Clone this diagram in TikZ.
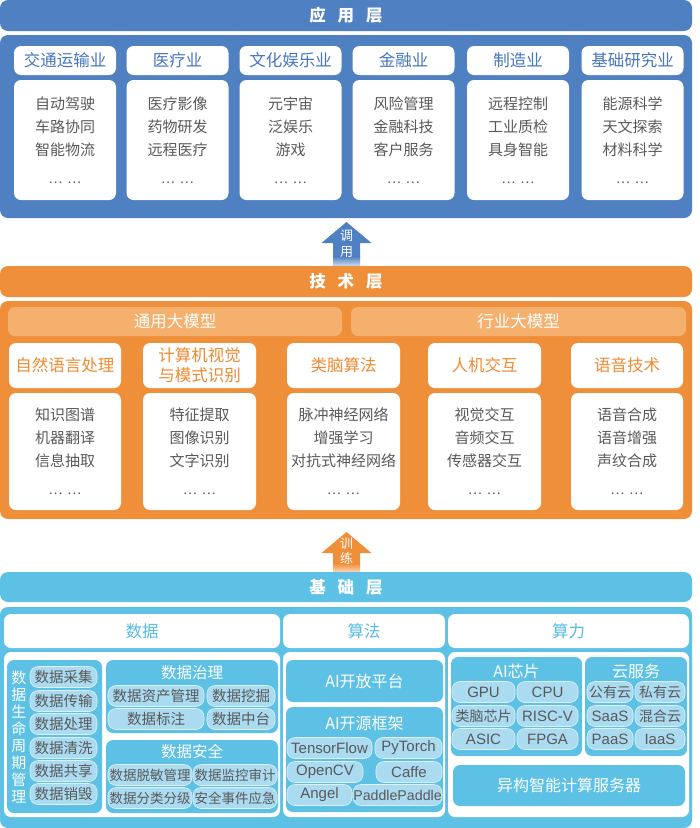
\documentclass[tikz,border=0pt]{standalone}
\usepackage{fontspec}
\setmainfont{Noto Sans CJK SC}
\newfontfamily\latinfont{Liberation Sans}
\definecolor{appblue}{RGB}{79,128,194}
\definecolor{apptext}{RGB}{70,118,190}
\definecolor{techorange}{RGB}{240,143,58}
\definecolor{techlight}{RGB}{245,176,110}
\definecolor{techtext}{RGB}{239,138,50}
\definecolor{basecyan}{RGB}{93,193,229}
\definecolor{basetext}{RGB}{88,188,226}
\definecolor{pillcyan}{RGB}{170,219,240}
\definecolor{textgray}{RGB}{89,89,89}
\newcommand{\moredots}{{\fontsize{13}{13}\selectfont\dots\hspace{5pt}\dots}}

\begin{document}
\begin{tikzpicture}[x=1pt, y=-1pt,
	every node/.style={inner sep=0pt, outer sep=0pt},
	titlebar/.style={rounded corners=8pt, minimum width=692pt, minimum height=31pt, text=white, font=\bfseries\fontsize{16.5}{18}\selectfont},
	header/.style={fill=white, rounded corners=7pt, minimum height=29pt, font=\fontsize{16.5}{18}\selectfont},
	listbox/.style={fill=white, rounded corners=7pt, align=center, text=textgray, font=\fontsize{15}{23}\selectfont},
	panel/.style={fill=basecyan, rounded corners=7pt},
	paneltitle/.style={text=white, font=\fontsize{15.5}{17}\selectfont},
	pill/.style={fill=pillcyan, draw=white!60!pillcyan, line width=0.6pt, rounded corners=8pt, minimum height=21pt, text=textgray, font=\fontsize{14.5}{16}\selectfont},
	latinpill/.style={pill, font=\latinfont\fontsize{15}{16}\selectfont}]
	\useasboundingbox (0,0) rectangle (700,828);
	% application layer
	\node[titlebar, fill=appblue] (apptitle) at (346,15.5) {应\hspace{12pt}用\hspace{12pt}层};
	\fill[appblue, rounded corners=8pt] (0,35) rectangle (692,218);
	\node[header, minimum width=102pt, text=apptext] (a1) at (65,60.5) {交通运输业};
	\node[header, minimum width=102pt, text=apptext] (a2) at (177.5,60.5) {医疗业};
	\node[header, minimum width=102pt, text=apptext] (a3) at (290.5,60.5) {文化娱乐业};
	\node[header, minimum width=102pt, text=apptext] (a4) at (403.5,60.5) {金融业};
	\node[header, minimum width=102pt, text=apptext] (a5) at (518,60.5) {制造业};
	\node[header, minimum width=102pt, text=apptext] (a6) at (632.5,60.5) {基础研究业};
	\node[listbox, minimum width=102pt, minimum height=120pt] (al1) at (65,140) {自动驾驶\\车路协同\\智能物流\\[5pt]\moredots};
	\node[listbox, minimum width=102pt, minimum height=120pt] (al2) at (177.5,140) {医疗影像\\药物研发\\远程医疗\\[5pt]\moredots};
	\node[listbox, minimum width=102pt, minimum height=120pt] (al3) at (290.5,140) {元宇宙\\泛娱乐\\游戏\\[5pt]\moredots};
	\node[listbox, minimum width=102pt, minimum height=120pt] (al4) at (403.5,140) {风险管理\\金融科技\\客户服务\\[5pt]\moredots};
	\node[listbox, minimum width=102pt, minimum height=120pt] (al5) at (518,140) {远程控制\\工业质检\\具身智能\\[5pt]\moredots};
	\node[listbox, minimum width=102pt, minimum height=120pt] (al6) at (632.5,140) {能源科学\\天文探索\\材料科学\\[5pt]\moredots};
	% call arrow
	\fill[appblue] (333,257) -- (333,243) -- (321.5,243) -- (346.5,222) -- (371.5,243) -- (360,243) -- (360,257) -- cycle;
	\shade[top color=appblue, bottom color=appblue!35!white] (333,256.5) rectangle (360,265);
	\node[text=white, align=center, font=\fontsize{13}{16}\selectfont] (call) at (346.5,244) {调\\用};
	% technology layer
	\node[titlebar, fill=techorange] (techtitle) at (346,281.5) {技\hspace{12pt}术\hspace{12pt}层};
	\fill[techorange, rounded corners=8pt] (0,301) rectangle (692,519);
	\node[fill=techlight, rounded corners=7pt, minimum width=334pt, minimum height=29pt, text=white, font=\fontsize{16.5}{18}\selectfont] (general) at (175,321.5) {通用大模型};
	\node[fill=techlight, rounded corners=7pt, minimum width=335pt, minimum height=29pt, text=white, font=\fontsize{16.5}{18}\selectfont] (industry) at (518.5,321.5) {行业大模型};
	\node[header, minimum width=112pt, minimum height=45pt, text=techtext] (t1) at (65,365.5) {自然语言处理};
	\node[header, minimum width=113pt, minimum height=45pt, text=techtext, align=center, font=\fontsize{16.5}{20}\selectfont] (t2) at (199.5,365.5) {计算机视觉\\与模式识别};
	\node[header, minimum width=113pt, minimum height=45pt, text=techtext] (t3) at (343.5,365.5) {类脑算法};
	\node[header, minimum width=113pt, minimum height=45pt, text=techtext] (t4) at (484.5,365.5) {人机交互};
	\node[header, minimum width=112pt, minimum height=45pt, text=techtext] (t5) at (627,365.5) {语音技术};
	\node[listbox, minimum width=112pt, minimum height=117pt] (tl1) at (65,451.5) {知识图谱\\机器翻译\\信息抽取\\[5pt]\moredots};
	\node[listbox, minimum width=113pt, minimum height=117pt] (tl2) at (199.5,451.5) {特征提取\\图像识别\\文字识别\\[5pt]\moredots};
	\node[listbox, minimum width=113pt, minimum height=117pt] (tl3) at (343.5,451.5) {脉冲神经网络\\增强学习\\对抗式神经网络\\[5pt]\moredots};
	\node[listbox, minimum width=113pt, minimum height=117pt] (tl4) at (484.5,451.5) {视觉交互\\音频交互\\传感器交互\\[5pt]\moredots};
	\node[listbox, minimum width=112pt, minimum height=117pt] (tl5) at (627,451.5) {语音合成\\语音增强\\声纹合成\\[5pt]\moredots};
	% train arrow
	\fill[techorange] (333,564) -- (333,553) -- (321.5,553) -- (346.5,532) -- (371.5,553) -- (360,553) -- (360,564) -- cycle;
	\shade[top color=techorange, bottom color=techorange!35!white] (333,563.5) rectangle (360,572);
	\node[text=white, align=center, font=\fontsize{13}{15}\selectfont] (train) at (346.5,551) {训\\练};
	% base layer
	\node[titlebar, fill=basecyan, minimum height=30pt] (basetitle) at (346,587) {基\hspace{12pt}础\hspace{12pt}层};
	\fill[basecyan, rounded corners=8pt] (0,607) rectangle (692,828);
	\node[header, minimum width=276pt, minimum height=34pt, text=basetext] (data) at (142,631) {数据};
	\node[header, minimum width=162pt, minimum height=34pt, text=basetext] (algo) at (364,631) {算法};
	\node[header, minimum width=241pt, minimum height=34pt, text=basetext] (power) at (568.5,631) {算力};
	\fill[white, rounded corners=7pt] (4,652) rectangle (280,817);
	\fill[white, rounded corners=7pt] (283,652) rectangle (445,817);
	\fill[white, rounded corners=7pt] (448,652) rectangle (689,817);
	% data
	\fill[panel] (7,660) rectangle (102,813);
	\node[text=white, align=center, font=\fontsize{15}{17}\selectfont] (life) at (19,737.5) {数\\据\\生\\命\\周\\期\\管\\理};
	\node[pill, minimum width=67pt] (d1) at (63.5,677) {数据采集};
	\node[pill, minimum width=67pt] (d2) at (63.5,701) {数据传输};
	\node[pill, minimum width=67pt] (d3) at (63.5,724) {数据处理};
	\node[pill, minimum width=67pt] (d4) at (63.5,748) {数据清洗};
	\node[pill, minimum width=67pt] (d5) at (63.5,771) {数据共享};
	\node[pill, minimum width=67pt] (d6) at (63.5,794) {数据销毁};
	\fill[panel] (106,660) rectangle (278,733);
	\node[paneltitle] (gov) at (192,673) {数据治理};
	\node[pill, minimum width=96pt] (g1) at (156,696) {数据资产管理};
	\node[pill, minimum width=68pt] (g2) at (241,696) {数据挖掘};
	\node[pill, minimum width=96pt] (g3) at (156,719) {数据标注};
	\node[pill, minimum width=68pt] (g4) at (241,719) {数据中台};
	\fill[panel] (106,740) rectangle (278,813);
	\node[paneltitle] (safe) at (192,752) {数据安全};
	\node[pill, minimum width=84pt, font=\fontsize{13.5}{15}\selectfont] (s1) at (150,775) {数据脱敏管理};
	\node[pill, minimum width=84pt, font=\fontsize{13.5}{15}\selectfont] (s2) at (235,775) {数据监控审计};
	\node[pill, minimum width=84pt, font=\fontsize{13.5}{15}\selectfont] (s3) at (150,798) {数据分类分级};
	\node[pill, minimum width=84pt, font=\fontsize{13.5}{15}\selectfont] (s4) at (235,798) {安全事件应急};
	% algorithm
	\node[panel, minimum width=157pt, minimum height=42pt, text=white, font=\fontsize{16}{18}\selectfont] (open) at (364.5,681) {AI开放平台};
	\fill[panel] (286,707) rectangle (443,812);
	\node[paneltitle, font=\fontsize{16}{18}\selectfont] (frame) at (364.5,723) {AI开源框架};
	\node[latinpill, minimum width=85pt] (f1) at (329.5,748) {TensorFlow};
	\node[latinpill, minimum width=67pt] (f2) at (408.5,748) {PyTorch};
	\node[latinpill, minimum width=76pt] (f3) at (325,772) {OpenCV};
	\node[latinpill, minimum width=66pt] (f4) at (409,772) {Caffe};
	\node[latinpill, minimum width=65pt] (f5) at (319.5,795) {Angel};
	\node[latinpill, minimum width=89pt, font=\latinfont\fontsize{14.2}{16}\selectfont] (f6) at (397.5,795) {PaddlePaddle};
	% computing power
	\fill[panel] (451,657) rectangle (582,756);
	\node[paneltitle, font=\fontsize{16}{18}\selectfont] (chip) at (516.5,671) {AI芯片};
	\node[latinpill, minimum width=63pt] (c1) at (483.5,692) {GPU};
	\node[latinpill, minimum width=61pt] (c2) at (547.5,692) {CPU};
	\node[pill, minimum width=63pt, font=\fontsize{14}{16}\selectfont] (c3) at (483.5,716) {类脑芯片};
	\node[latinpill, minimum width=61pt] (c4) at (547.5,716) {RISC-V};
	\node[latinpill, minimum width=63pt] (c5) at (483.5,739) {ASIC};
	\node[latinpill, minimum width=61pt] (c6) at (547.5,739) {FPGA};
	\fill[panel] (585,657) rectangle (687,756);
	\node[paneltitle, font=\fontsize{16}{18}\selectfont] (cloud) at (636,671) {云服务};
	\node[pill, minimum width=46pt, font=\fontsize{14}{16}\selectfont] (k1) at (610,692) {公有云};
	\node[pill, minimum width=50pt, font=\fontsize{14}{16}\selectfont] (k2) at (660,692) {私有云};
	\node[latinpill, minimum width=46pt] (k3) at (610,716) {SaaS};
	\node[pill, minimum width=50pt, font=\fontsize{14}{16}\selectfont] (k4) at (660,716) {混合云};
	\node[latinpill, minimum width=46pt] (k5) at (610,739) {PaaS};
	\node[latinpill, minimum width=50pt] (k6) at (660,739) {IaaS};
	\node[panel, minimum width=232pt, minimum height=41pt, text=white, font=\fontsize{16}{18}\selectfont] (hetero) at (569,785.5) {异构智能计算服务器};
\end{tikzpicture}
\end{document}
